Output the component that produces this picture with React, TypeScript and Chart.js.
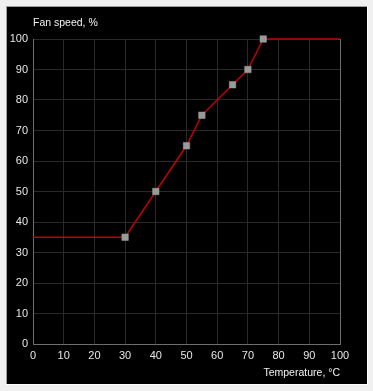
import React, { useEffect, useRef } from "react";
import { Chart, registerables } from "chart.js";

Chart.register(...registerables);

const temperatures = [0, 30, 40, 50, 55, 65, 70, 75, 100];
const fanSpeeds = [35, 35, 50, 65, 75, 85, 90, 100, 100];
const markerShown = [false, true, true, true, true, true, true, true, false];
const xTicks = [0, 10, 20, 30, 40, 50, 60, 70, 80, 90, 100];
const yTicks = [0, 10, 20, 30, 40, 50, 60, 70, 80, 90, 100];
const yTitle = "Fan speed, %";
const xTitle = "Temperature, \u00B0C";

const FONT = "'Liberation Sans', Arial, sans-serif";

const framePlugin = {
  id: "frame",
  beforeDraw(chart: any) {
    const { ctx, width, height } = chart;
    ctx.save();
    ctx.fillStyle = "#f0f0f0";
    ctx.fillRect(0, 0, width, height);
    ctx.fillStyle = "#000000";
    ctx.fillRect(7, 7, 360, 377);
    ctx.fillStyle = "#a0a0a0";
    ctx.fillRect(6, 6, 361, 1);
    ctx.fillRect(6, 6, 1, 378);
    ctx.fillStyle = "#ffffff";
    ctx.fillRect(6, 384, 362, 1);
    ctx.fillRect(367, 6, 1, 379);
    ctx.restore();
  },
  afterDraw(chart: any) {
    const { ctx, chartArea } = chart;
    ctx.save();
    ctx.fillStyle = "#f2f2f2";
    ctx.font = `10.5px ${FONT}`;
    ctx.textBaseline = "middle";
    ctx.textAlign = "left";
    ctx.fillText(yTitle, chartArea.left, 23);
    ctx.textAlign = "right";
    ctx.fillText(xTitle, chartArea.right, 373);
    ctx.restore();
  },
};

export default function App() {
  const ref = useRef<HTMLCanvasElement | null>(null);
  useEffect(() => {
    if (!ref.current) return;
    const chart = new Chart(ref.current, {
      type: "line",
      data: {
        datasets: [
          {
            data: temperatures.map((t, i) => ({ x: t, y: fanSpeeds[i] })),
            borderColor: "#c00000",
            borderWidth: 1.5,
            tension: 0,
            clip: false,
            pointStyle: "rect",
            pointRadius: markerShown.map((m) => (m ? 4.6 : 0)),
            pointHoverRadius: markerShown.map((m) => (m ? 4.6 : 0)),
            pointBackgroundColor: "#9a9a9a",
            pointBorderColor: "#9a9a9a",
            pointBorderWidth: 0.5,
          },
        ],
      },
      options: {
        animation: false,
        responsive: false,
        maintainAspectRatio: false,
        layout: { padding: { left: 0, right: 33, top: 39, bottom: 0 } },
        plugins: {
          legend: { display: false },
          tooltip: { enabled: false },
          title: { display: false },
        },
        scales: {
          x: {
            type: "linear",
            min: 0,
            max: 100,
            afterBuildTicks: (s: any) => {
              s.ticks = xTicks.map((v) => ({ value: v }));
            },
            afterFit: (s: any) => {
              s.height = 47;
            },
            ticks: {
              color: "#e6e6e6",
              font: { family: FONT, size: 11 },
              padding: 5,
              maxRotation: 0,
              autoSkip: false,
            },
            grid: {
              drawTicks: false,
              color: (c: any) => (c.tick && c.tick.value === 100 ? "#6e6e6e" : "#2a2a2a"),
              lineWidth: 1,
            },
            border: { color: "#6e6e6e", width: 1 },
          },
          y: {
            type: "linear",
            min: 0,
            max: 100,
            afterBuildTicks: (s: any) => {
              s.ticks = yTicks.map((v) => ({ value: v }));
            },
            afterFit: (s: any) => {
              s.width = 33;
            },
            ticks: {
              color: "#e6e6e6",
              font: { family: FONT, size: 11 },
              padding: 5,
              autoSkip: false,
            },
            grid: {
              drawTicks: false,
              color: "#2a2a2a",
              lineWidth: 1,
            },
            border: { color: "#6e6e6e", width: 1 },
          },
        },
      },
      plugins: [framePlugin],
    });
    return () => chart.destroy();
  }, []);
  return (
    <div style={{ position: "fixed", left: 0, top: 0, width: 373, height: 391 }}>
      <canvas ref={ref} width={373} height={391} style={{ display: "block", width: 373, height: 391 }} />
    </div>
  );
}
